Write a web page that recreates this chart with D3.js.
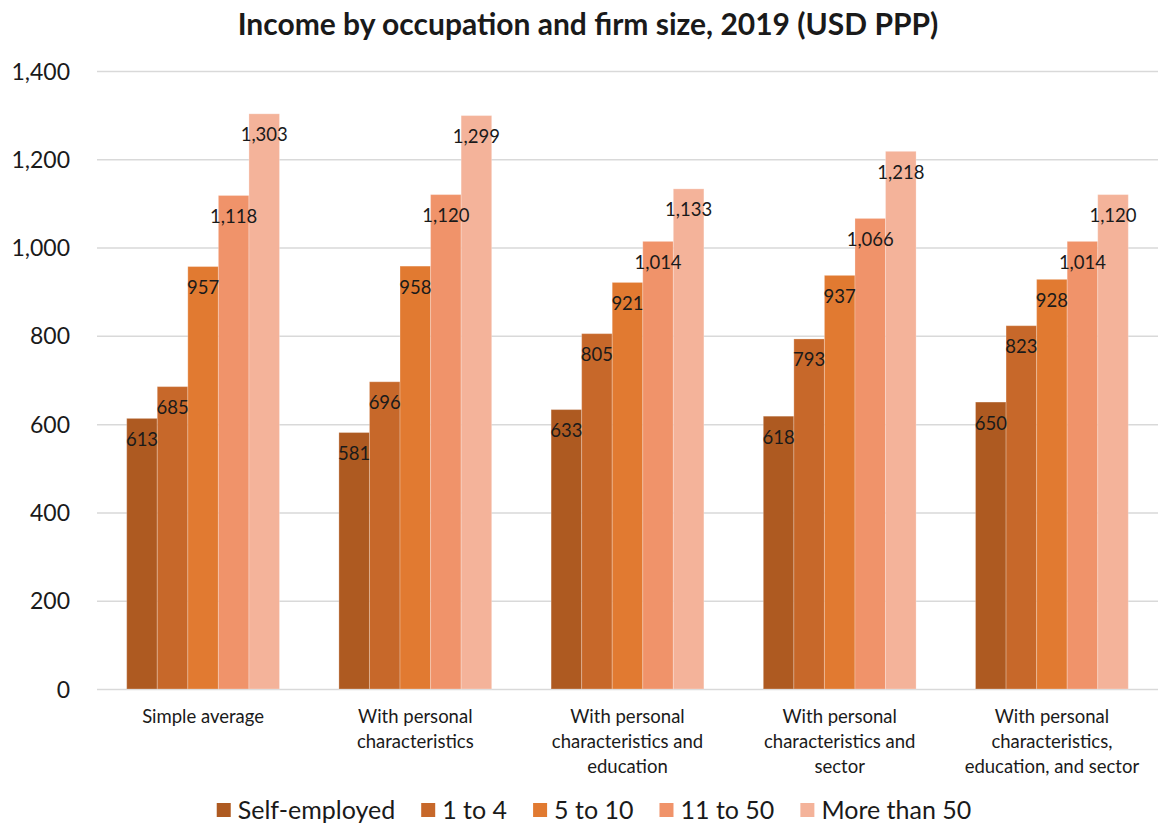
<!DOCTYPE html>
<html><head><meta charset="utf-8">
<script src="https://cdn.jsdelivr.net/npm/d3@7"></script>
<style>body{margin:0;background:#fff}svg{display:block}text{font-family:Lato,"Open Sans",sans-serif;fill:#1a1a1a}</style>
</head><body><svg id="c" width="1158" height="825"></svg>
<script>
const categories = [
  ["Simple average"],
  ["With personal", "characteristics"],
  ["With personal", "characteristics and", "education"],
  ["With personal", "characteristics and", "sector"],
  ["With personal", "characteristics,", "education, and sector"]
];
const seriesNames = ["Self-employed", "1 to 4", "5 to 10", "11 to 50", "More than 50"];
const selfEmployed = [613, 581, 633, 618, 650];
const oneToFour = [685, 696, 805, 793, 823];
const fiveToTen = [957, 958, 921, 937, 928];
const elevenToFifty = [1118, 1120, 1014, 1066, 1014];
const moreThanFifty = [1303, 1299, 1133, 1218, 1120];
const yTicks = [0, 200, 400, 600, 800, 1000, 1200, 1400];
const colors = ["#AE5A21", "#C7682A", "#E17A31", "#F0936A", "#F4B39A"];
const series = [selfEmployed, oneToFour, fiveToTen, elevenToFifty, moreThanFifty];

const svg = d3.select("#c");
const plotTop = 71, plotBottom = 689, plotLeft = 97, plotRight = 1158;
const y = d3.scaleLinear().domain([0, 1400]).range([plotBottom, plotTop]);
const x0 = d3.scaleBand().domain(d3.range(categories.length)).range([plotLeft, plotRight]).paddingInner(0.28).paddingOuter(0.14);
const x1 = d3.scaleBand().domain(d3.range(series.length)).range([0, x0.bandwidth()]);
const fmt = d3.format(",");

svg.append("text").attr("x", 588).attr("y", 35).attr("text-anchor", "middle")
  .style("font-size", "30px").style("font-weight", "bold").text("Income by occupation and firm size, 2019 (USD PPP)");

const yAxis = d3.axisLeft(y).tickValues(yTicks).tickSize(-(plotRight - plotLeft)).tickFormat(fmt);
const ga = svg.append("g").attr("transform", `translate(${plotLeft},0)`).call(yAxis);
ga.select(".domain").remove();
ga.selectAll(".tick line").attr("stroke", "#d9d9d9").attr("stroke-width", 1.5);
ga.selectAll(".tick text").attr("x", -27).attr("dy", "0.35em").style("font-size", "23px").style("fill", "#1a1a1a");

const groups = svg.append("g").selectAll("g").data(categories).join("g")
  .attr("transform", (d, i) => `translate(${x0(i)},0)`);
groups.each(function(c, ci) {
  const g = d3.select(this);
  series.forEach((s, si) => {
    g.append("rect").attr("x", x1(si)).attr("y", y(s[ci])).attr("width", x1.bandwidth())
      .attr("height", y(0) - y(s[ci])).attr("fill", colors[si])
      .attr("stroke", "rgba(255,255,255,0.25)").attr("stroke-width", 1);
  });
  series.forEach((s, si) => {
    g.append("text").attr("x", x1(si) + x1.bandwidth() / 2).attr("y", y(s[ci]) + 21).attr("dy", "0.35em")
      .attr("text-anchor", "middle").style("font-size", "18.5px").text(fmt(s[ci]));
  });
  const t = g.append("text").attr("x", x0.bandwidth() / 2).attr("y", 717).attr("text-anchor", "middle")
    .style("font-size", "18.5px");
  c.forEach((line, li) => t.append("tspan").attr("x", x0.bandwidth() / 2).attr("y", 717 + li * 25).attr("dy", "0.35em").text(line));
});

// legend laid out from measured text widths, centred
const lg = svg.append("g");
const sq = 14, gapSq = 7, gapItem = 26;
const items = seriesNames.map((n, i) => {
  const it = lg.append("g");
  it.append("rect").attr("y", 803).attr("width", sq).attr("height", sq).attr("fill", colors[i]);
  const tx = it.append("text").attr("x", sq + gapSq).attr("y", 810).attr("dy", "0.35em").style("font-size", "25px").text(n);
  return { g: it, w: sq + gapSq + tx.node().getComputedTextLength() };
});
const total = d3.sum(items, d => d.w) + gapItem * (items.length - 1);
let cx = 594 - total / 2;
items.forEach(d => { d.g.attr("transform", `translate(${cx},0)`); cx += d.w + gapItem; });
</script></body></html>
